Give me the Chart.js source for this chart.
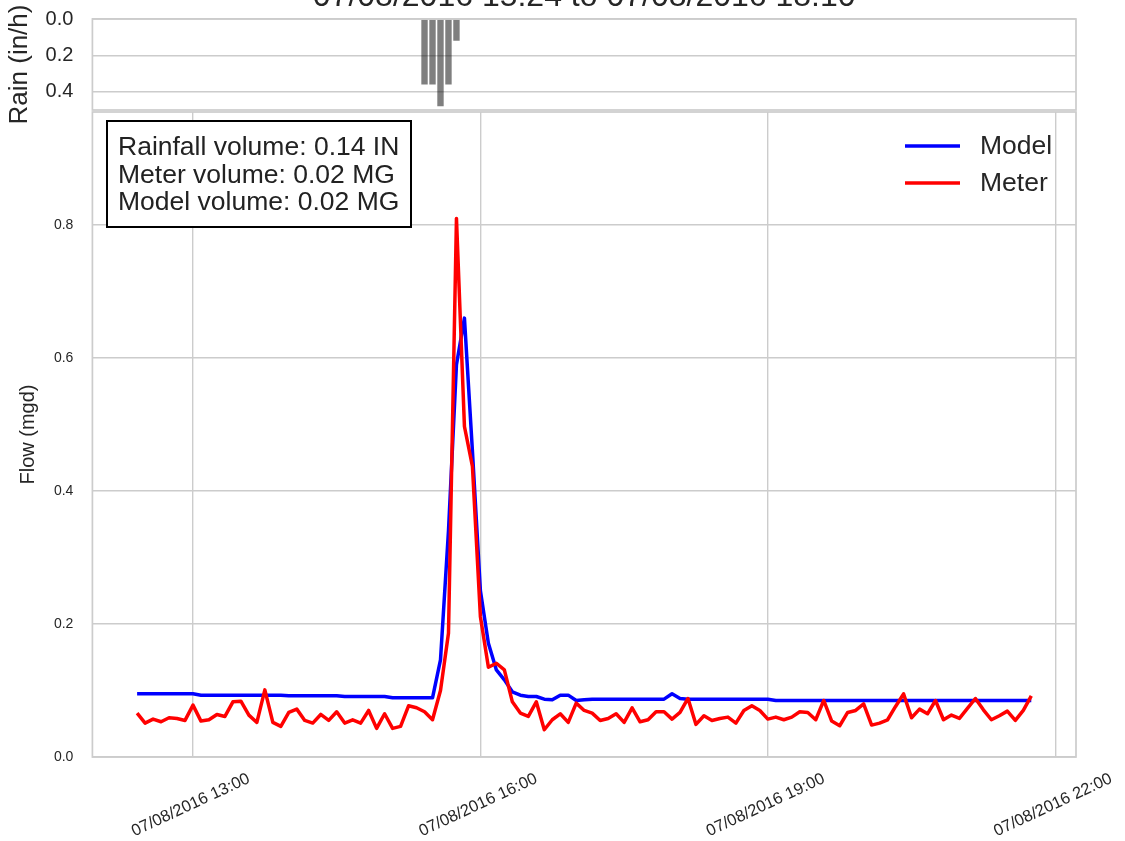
<!DOCTYPE html>
<html>
<head>
<meta charset="utf-8">
<script src="https://cdn.jsdelivr.net/npm/chart.js@4.4.0/dist/chart.umd.min.js"></script>
<style>
  html, body { margin: 0; padding: 0; background: #fff; }
  #page { position: relative; width: 1125px; height: 841px; overflow: hidden; background: #fff; }
  #rain-chart { position: absolute; left: 0; top: 0; }
  #flow-chart { position: absolute; left: 0; top: 111px; }
</style>
</head>
<body>
<div id="page">
  <canvas id="rain-chart" width="1125" height="140"></canvas>
  <canvas id="flow-chart" width="1125" height="730"></canvas>
</div>
<script>
(function () {
  'use strict';

  // ── Data ─────────────────────────────────────────────────────────────
  var chartTitle = '07/08/2016 15:24 to 07/08/2016 18:10';
  var statsLines = ['Rainfall volume: 0.14 IN', 'Meter volume: 0.02 MG', 'Model volume: 0.02 MG'];

  // rain gauge, 5-minute bins (in/h)
  var rainTimes = ['15:25', '15:30', '15:35', '15:40', '15:45'];
  var rainValues = [0.36, 0.36, 0.48, 0.36, 0.12];

  // flow series, 5-minute steps starting 12:25 (mgd)
  var flowStart = '12:25';
  var flowStepMin = 5;
  var modelFlow = [
    0.095, 0.095, 0.095, 0.095, 0.095, 0.095, 0.095, 0.095,
    0.093, 0.093, 0.093, 0.093, 0.093, 0.093, 0.093, 0.093, 0.093, 0.093, 0.093,
    0.092, 0.092, 0.092, 0.092, 0.092, 0.092, 0.092,
    0.091, 0.091, 0.091, 0.091, 0.091, 0.091,
    0.089, 0.089, 0.089, 0.089, 0.089, 0.089,
    0.146, 0.340, 0.590, 0.660, 0.460, 0.250, 0.171, 0.131, 0.116, 0.098,
    0.093, 0.091, 0.091, 0.087, 0.086, 0.093, 0.093, 0.085, 0.086,
    0.087, 0.087, 0.087, 0.087, 0.087, 0.087, 0.087, 0.087, 0.087, 0.087,
    0.095, 0.088,
    0.087, 0.087, 0.087, 0.087, 0.087, 0.087, 0.087, 0.087, 0.087, 0.087, 0.087,
    0.085, 0.085, 0.085, 0.085, 0.085, 0.085, 0.085, 0.085, 0.085, 0.085, 0.085,
    0.085, 0.085, 0.085, 0.085, 0.085, 0.085, 0.085, 0.085, 0.085, 0.085, 0.085,
    0.085, 0.085, 0.085, 0.085, 0.085, 0.085, 0.085, 0.085, 0.085, 0.085, 0.085
  ];
  var meterFlow = [
    0.066, 0.051, 0.057, 0.053, 0.059, 0.058, 0.055, 0.078, 0.054, 0.056,
    0.064, 0.061, 0.083, 0.084, 0.063, 0.052, 0.101, 0.052, 0.046, 0.067,
    0.072, 0.055, 0.051, 0.064, 0.055, 0.068, 0.051, 0.056, 0.051, 0.070,
    0.043, 0.065, 0.043, 0.046, 0.077, 0.074, 0.068, 0.056, 0.100, 0.186,
    0.810, 0.497, 0.437, 0.211, 0.135, 0.141, 0.131, 0.083, 0.066, 0.061,
    0.083, 0.041, 0.056, 0.065, 0.052, 0.081, 0.070, 0.066, 0.055, 0.058,
    0.065, 0.052, 0.074, 0.053, 0.056, 0.068, 0.068, 0.057, 0.067, 0.088,
    0.049, 0.062, 0.055, 0.058, 0.060, 0.051, 0.070, 0.077, 0.070, 0.057,
    0.060, 0.056, 0.060, 0.068, 0.067, 0.056, 0.085, 0.054, 0.047, 0.067,
    0.070, 0.080, 0.048, 0.051, 0.056, 0.076, 0.095, 0.059, 0.072, 0.065,
    0.085, 0.056, 0.063, 0.058, 0.073, 0.088, 0.071, 0.056, 0.062, 0.069,
    0.055, 0.070, 0.092
  ];

  var xTickLabels = ['07/08/2016 13:00', '07/08/2016 16:00', '07/08/2016 19:00', '07/08/2016 22:00'];
  var rainTicks = [0.0, 0.2, 0.4];
  var flowTicks = [0.0, 0.2, 0.4, 0.6, 0.8];
  var rainMax = 0.5;
  var flowMax = 0.97;

  // ── Helpers ──────────────────────────────────────────────────────────
  function toMin(hhmm) {
    var p = hhmm.split(':');
    return parseInt(p[0], 10) * 60 + parseInt(p[1], 10);
  }

  var t0 = toMin(flowStart);
  var flowTimes = modelFlow.map(function (v, i) { return t0 + i * flowStepMin; });
  var xTickValues = xTickLabels.map(function (s) { return toMin(s.split(' ')[1]); });

  // matplotlib-style 5% margins on the time axis
  var span = flowTimes[flowTimes.length - 1] - flowTimes[0];
  var xMin = flowTimes[0] - span * 0.05;
  var xMax = flowTimes[flowTimes.length - 1] + span * 0.05;

  var TEXT = '#262626';
  var GRID = '#cccccc';
  var FONT = "'Liberation Sans', Arial, Helvetica, sans-serif";
  var AXIS_W = 92.4;

  Chart.defaults.font.family = FONT;
  Chart.defaults.color = TEXT;
  Chart.defaults.animation = false;

  function setTicks(list) {
    return function (scale) {
      scale.ticks = list.map(function (v) { return { value: v }; });
    };
  }

  // fixed axis box, no extra label padding pushed into the layout
  function fixWidth(w) {
    return function (s) {
      s.width = w;
      s.paddingTop = 0;
      s.paddingBottom = 0;
    };
  }
  function fixHeight(h) {
    return function (s) {
      s.height = h;
      s.paddingLeft = 0;
      s.paddingRight = 0;
    };
  }

  // full box around the plot area (Chart.js only draws the axis sides)
  var framePlugin = {
    id: 'frame',
    afterDatasetsDraw: function (chart) {
      var a = chart.chartArea;
      var ctx = chart.ctx;
      ctx.save();
      ctx.strokeStyle = GRID;
      ctx.lineWidth = 1.7;
      ctx.strokeRect(a.left, a.top, a.right - a.left, a.bottom - a.top);
      ctx.restore();
    }
  };

  // ── Rain panel ───────────────────────────────────────────────────────
  new Chart(document.getElementById('rain-chart').getContext('2d'), {
    type: 'bar',
    data: {
      datasets: [{
        label: 'Rain',
        data: rainTimes.map(function (t, i) { return { x: toMin(t), y: rainValues[i] }; }),
        backgroundColor: 'rgba(0,0,0,0.5)',
        borderWidth: 0,
        barPercentage: 0.8,
        categoryPercentage: 1.0
      }]
    },
    options: {
      responsive: false,
      layout: { padding: { left: 0, right: 49, top: 19, bottom: 30 }, autoPadding: false },
      plugins: {
        legend: { display: false },
        tooltip: { enabled: false }
      },
      scales: {
        x: {
          type: 'linear',
          min: xMin,
          max: xMax,
          offset: false,
          display: false
        },
        y: {
          reverse: true,
          min: 0,
          max: rainMax,
          afterBuildTicks: setTicks(rainTicks),
          afterFit: fixWidth(AXIS_W),
          border: { display: false },
          grid: { color: GRID, lineWidth: 1.4, drawTicks: false },
          ticks: {
            padding: 19,
            color: TEXT,
            font: { size: 20 },
            callback: function (v) { return v.toFixed(1); }
          },
          title: {
            display: true,
            text: 'Rain (in/h)',
            color: TEXT,
            font: { size: 26 },
            padding: { top: 4, bottom: 0 }
          }
        }
      }
    },
    plugins: [framePlugin, {
      id: 'suptitle',
      afterDraw: function (chart) {
        var ctx = chart.ctx;
        var a = chart.chartArea;
        ctx.save();
        ctx.fillStyle = TEXT;
        ctx.font = '32px ' + FONT;
        ctx.textAlign = 'center';
        ctx.textBaseline = 'alphabetic';
        ctx.fillText(chartTitle, (a.left + a.right) / 2, 6);
        ctx.restore();
      }
    }]
  });

  // ── Flow panel ───────────────────────────────────────────────────────
  var statsPlugin = {
    id: 'stats',
    afterDraw: function (chart) {
      var ctx = chart.ctx;
      ctx.save();
      ctx.fillStyle = '#ffffff';
      ctx.fillRect(107, 10, 304, 106);
      ctx.strokeStyle = '#000000';
      ctx.lineWidth = 2;
      ctx.strokeRect(107, 10, 304, 106);
      ctx.fillStyle = '#222222';
      ctx.font = '26.5px ' + FONT;
      ctx.textAlign = 'left';
      ctx.textBaseline = 'alphabetic';
      statsLines.forEach(function (line, i) {
        ctx.fillText(line, 118, 44 + i * 27.5);
      });
      ctx.restore();
    }
  };

  var legendPlugin = {
    id: 'lineLegend',
    afterDraw: function (chart) {
      var ctx = chart.ctx;
      var sets = chart.data.datasets;
      ctx.save();
      ctx.font = '26.5px ' + FONT;
      ctx.textAlign = 'left';
      ctx.textBaseline = 'middle';
      sets.forEach(function (ds, i) {
        var y = 35 + i * 37;
        ctx.strokeStyle = ds.borderColor;
        ctx.lineWidth = 3.5;
        ctx.beginPath();
        ctx.moveTo(905, y);
        ctx.lineTo(960, y);
        ctx.stroke();
        ctx.fillStyle = TEXT;
        ctx.fillText(ds.label, 980, y + 1);
      });
      ctx.restore();
    }
  };

  new Chart(document.getElementById('flow-chart').getContext('2d'), {
    type: 'line',
    data: {
      datasets: [
        {
          label: 'Model',
          data: flowTimes.map(function (t, i) { return { x: t, y: modelFlow[i] }; }),
          borderColor: '#0000ff',
          borderWidth: 3.5,
          pointRadius: 0,
          tension: 0,
          fill: false,
          borderJoinStyle: 'round',
          order: 1
        },
        {
          label: 'Meter',
          data: flowTimes.map(function (t, i) { return { x: t, y: meterFlow[i] }; }),
          borderColor: '#ff0000',
          borderWidth: 3.5,
          pointRadius: 0,
          tension: 0,
          fill: false,
          borderJoinStyle: 'round',
          order: 0
        }
      ]
    },
    options: {
      responsive: false,
      layout: { padding: { left: 0, right: 49, top: 1, bottom: 0 }, autoPadding: false },
      plugins: {
        legend: { display: false },
        tooltip: { enabled: false }
      },
      scales: {
        x: {
          type: 'linear',
          min: xMin,
          max: xMax,
          afterBuildTicks: setTicks(xTickValues),
          afterFit: fixHeight(84),
          border: { display: false },
          grid: { color: GRID, lineWidth: 1.4, drawTicks: false },
          ticks: {
            autoSkip: false,
            minRotation: 25,
            maxRotation: 25,
            padding: 12,
            labelOffset: 56,
            color: TEXT,
            font: { size: 16.5 },
            callback: function (v, i) { return xTickLabels[i]; }
          }
        },
        y: {
          min: 0,
          max: flowMax,
          afterBuildTicks: setTicks(flowTicks),
          afterFit: fixWidth(AXIS_W),
          border: { display: false },
          grid: { color: GRID, lineWidth: 1.4, drawTicks: false },
          ticks: {
            padding: 19,
            color: TEXT,
            font: { size: 14 },
            callback: function (v) { return v.toFixed(1); }
          },
          title: {
            display: true,
            text: 'Flow (mgd)',
            color: TEXT,
            font: { size: 20 },
            padding: { top: 16, bottom: 0 }
          }
        }
      }
    },
    plugins: [framePlugin, statsPlugin, legendPlugin]
  });
})();
</script>
</body>
</html>
